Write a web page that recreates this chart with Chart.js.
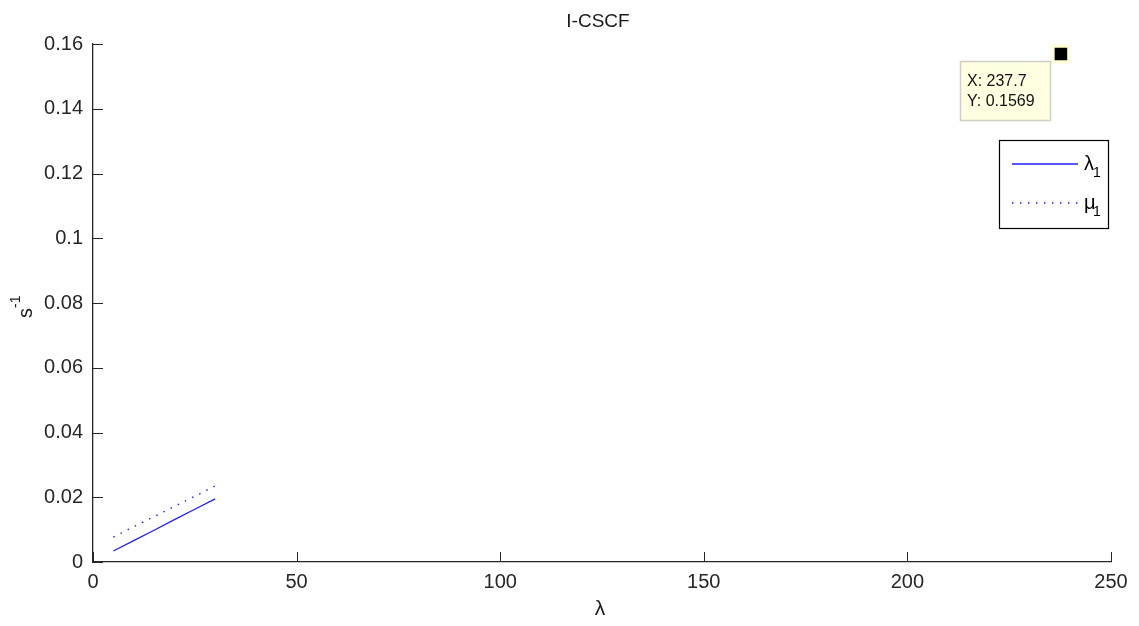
<!DOCTYPE html>
<html>
<head>
<meta charset="utf-8">
<script src="https://cdn.jsdelivr.net/npm/chart.js@4/dist/chart.umd.min.js"></script>
<style>
  html, body { margin: 0; padding: 0; background: #ffffff; }
  #wrap { width: 1139px; height: 626px; position: relative; }
</style>
</head>
<body>
<div id="wrap"><canvas id="c"></canvas></div>
<script>
// Arrival rate samples and the resulting rates for the I-CSCF node
const lambdaValues = [5, 10, 15, 20, 25, 30];
const lambda1 = [0.0034, 0.0066, 0.0098, 0.0131, 0.0163, 0.0195];
const mu1 = [0.0077, 0.0109, 0.0140, 0.0172, 0.0203, 0.0235];
// Data cursor location
const cursorX = [237.7];
const cursorY = [0.1569];
// Axis ticks
const xTicks = [0, 50, 100, 150, 200, 250];
const yTicks = [0, 0.02, 0.04, 0.06, 0.08, 0.1, 0.12, 0.14, 0.16];

const FONT = "'Liberation Sans', Arial, Helvetica, sans-serif";

const toPoints = (xs, ys) => xs.map((x, i) => ({ x: x, y: ys[i] }));

// Inward tick marks, title, axis labels, legend and data tip
const decorations = {
  id: 'decorations',
  afterDatasetsDraw(chart) {
    const { ctx, chartArea: a, scales: { x, y } } = chart;
    ctx.save();

    // inward ticks
    ctx.strokeStyle = '#262626';
    ctx.lineWidth = 1;
    ctx.beginPath();
    xTicks.forEach(v => {
      const px = Math.round(x.getPixelForValue(v)) + 0.5;
      ctx.moveTo(px, a.bottom);
      ctx.lineTo(px, a.bottom - 10);
    });
    yTicks.forEach(v => {
      const py = Math.round(y.getPixelForValue(v)) + 0.5;
      ctx.moveTo(a.left, py);
      ctx.lineTo(a.left + 10, py);
    });
    ctx.stroke();

    ctx.fillStyle = '#1a1a1a';
    // title
    ctx.font = '19px ' + FONT;
    ctx.textAlign = 'center';
    ctx.textBaseline = 'alphabetic';
    ctx.fillText('I-CSCF', (a.left + a.right) / 2 - 4, 27);

    // x axis label
    ctx.font = '21px ' + FONT;
    ctx.fillText('\u03BB', (a.left + a.right) / 2 - 2, 615);

    // y axis label: s^-1, rotated
    ctx.save();
    ctx.translate(32, 318);
    ctx.rotate(-Math.PI / 2);
    ctx.textAlign = 'left';
    ctx.font = '20px ' + FONT;
    ctx.fillText('s', 0, 0);
    ctx.font = '14px ' + FONT;
    ctx.fillText('-1', 10, -12);
    ctx.restore();

    // legend
    const lx = 999.5, ly = 140.5, lw = 109, lh = 88;
    ctx.fillStyle = '#ffffff';
    ctx.fillRect(lx, ly, lw, lh);
    ctx.strokeStyle = '#000000';
    ctx.lineWidth = 1.2;
    ctx.strokeRect(lx, ly, lw, lh);
    const entries = [
      { ds: chart.data.datasets[0], y: 164, base: '\u03BB' },
      { ds: chart.data.datasets[1], y: 203, base: '\u03BC' }
    ];
    entries.forEach(e => {
      ctx.strokeStyle = e.ds.borderColor;
      ctx.lineWidth = e.ds.borderWidth;
      ctx.setLineDash(e.ds.borderDash || []);
      ctx.beginPath();
      ctx.moveTo(1012, e.y);
      ctx.lineTo(1078, e.y);
      ctx.stroke();
      ctx.setLineDash([]);
      ctx.fillStyle = '#000000';
      ctx.textAlign = 'left';
      ctx.font = '20px ' + FONT;
      ctx.fillText(e.base, 1084, e.y + 6);
      ctx.font = '14px ' + FONT;
      ctx.fillText('1', 1093, e.y + 13);
    });

    // data tip box
    const bx = 960.5, by = 61.5, bw = 90, bh = 59;
    ctx.fillStyle = '#ffffe1';
    ctx.fillRect(bx, by, bw, bh);
    ctx.strokeStyle = '#cfcfc4';
    ctx.lineWidth = 1.5;
    ctx.strokeRect(bx, by, bw, bh);
    ctx.fillStyle = '#111111';
    ctx.font = '16px ' + FONT;
    ctx.textAlign = 'left';
    ctx.fillText('X: ' + cursorX[0], 967, 86);
    ctx.fillText('Y: ' + cursorY[0], 967, 106);

    ctx.restore();
  }
};

new Chart(document.getElementById('c'), {
  type: 'line',
  data: {
    datasets: [
      {
        label: '\u03BB1',
        data: toPoints(lambdaValues, lambda1),
        borderColor: '#1f1fff',
        borderWidth: 1.3,
        pointRadius: 0,
        fill: false
      },
      {
        label: '\u03BC1',
        data: toPoints(lambdaValues, mu1),
        borderColor: '#1f1fff',
        borderWidth: 1.4,
        borderDash: [1.5, 6.5],
        pointRadius: 0,
        fill: false
      },
      {
        label: 'cursor',
        data: toPoints(cursorX, cursorY),
        showLine: false,
        pointStyle: 'rect',
        pointRadius: 11,
        backgroundColor: '#000000',
        borderColor: '#ffffd2',
        borderWidth: 3
      }
    ]
  },
  options: {
    responsive: true,
    maintainAspectRatio: false,
    animation: false,
    layout: { padding: { top: 44, right: 28, left: 0, bottom: 0 } },
    plugins: {
      legend: { display: false },
      title: { display: false },
      tooltip: { enabled: false }
    },
    scales: {
      x: {
        type: 'linear',
        min: 0,
        max: 250,
        afterFit: s => { s.height = 64; },
        afterBuildTicks: s => { s.ticks = xTicks.map(v => ({ value: v })); },
        grid: { display: true, drawOnChartArea: false, drawTicks: false },
        border: { display: true, color: '#262626', width: 1.3 },
        ticks: {
          padding: 8,
          color: '#262626',
          font: { family: FONT, size: 20 },
          maxRotation: 0
        }
      },
      y: {
        type: 'linear',
        min: 0,
        max: 0.16,
        afterFit: s => { s.width = 93; },
        afterBuildTicks: s => { s.ticks = yTicks.map(v => ({ value: v })); },
        grid: { display: true, drawOnChartArea: false, drawTicks: false },
        border: { display: true, color: '#262626', width: 1.3 },
        ticks: {
          padding: 10,
          color: '#262626',
          font: { family: FONT, size: 20 },
          callback: v => String(+v.toFixed(2))
        }
      }
    }
  },
  plugins: [decorations]
});
</script>
</body>
</html>
